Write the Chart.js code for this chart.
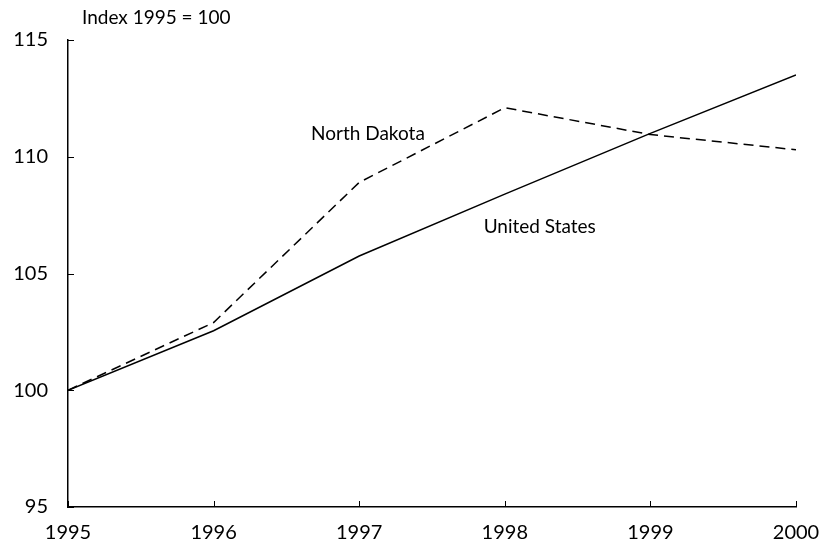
<!DOCTYPE html>
<html lang="en">
<head>
  <meta charset="UTF-8">
  <title>North Dakota vs United States index</title>
  <script src="https://cdn.jsdelivr.net/npm/chart.js"></script>
  <style>
    html, body { margin: 0; padding: 0; background: #fff; }
    #wrap { width: 823px; height: 550px; }
  </style>
</head>
<body>
  <div id="wrap"><canvas id="indexChart"></canvas></div>

  <script>
    // values (index, 1995 = 100)
    const years = [1995, 1996, 1997, 1998, 1999, 2000];
    const northDakota = [100, 102.9, 108.9, 112.1, 110.95, 110.3];
    const unitedStates = [100, 102.55, 105.75, 108.4, 111.0, 113.5];
    const yTicks = [95, 100, 105, 110, 115];

    const FONT = "Lato, 'DejaVu Sans', sans-serif";

    // series names written beside the lines, plus the unit note
    const labelPlugin = {
      id: 'labels',
      afterDraw(chart) {
        const ctx = chart.ctx;
        const x = chart.scales.x, y = chart.scales.y;
        ctx.save();
        ctx.fillStyle = '#000';
        ctx.font = "19px " + FONT;
        ctx.textAlign = 'center';
        ctx.textBaseline = 'middle';
        ctx.fillText('North Dakota', x.getPixelForValue(1997.06), y.getPixelForValue(111.0));
        ctx.fillText('United States', x.getPixelForValue(1998.24), y.getPixelForValue(107.0));
        ctx.textAlign = 'left';
        ctx.fillText('Index 1995 = 100', 82, 18);

        // short inward tick marks
        ctx.strokeStyle = '#000';
        ctx.lineWidth = 1;
        ctx.beginPath();
        y.ticks.forEach(t => {
          const py = Math.round(y.getPixelForValue(t.value)) + 0.5;
          ctx.moveTo(x.left, py); ctx.lineTo(x.left + 6, py);
        });
        x.ticks.forEach(t => {
          const px = Math.round(x.getPixelForValue(t.value)) + 0.5;
          ctx.moveTo(px, y.bottom); ctx.lineTo(px, y.bottom - 6);
        });
        ctx.stroke();
        ctx.restore();
      }
    };

    new Chart(document.getElementById('indexChart'), {
      type: 'line',
      data: {
        datasets: [
          {
            label: 'North Dakota',
            data: years.map((yr, i) => ({ x: yr, y: northDakota[i] })),
            borderColor: '#000',
            borderWidth: 1.5,
            borderDash: [10, 6],
            pointRadius: 0,
            tension: 0
          },
          {
            label: 'United States',
            data: years.map((yr, i) => ({ x: yr, y: unitedStates[i] })),
            borderColor: '#000',
            borderWidth: 1.5,
            pointRadius: 0,
            tension: 0
          }
        ]
      },
      options: {
        responsive: true,
        maintainAspectRatio: false,
        animation: false,
        layout: { padding: { top: 40, right: 27, left: 0, bottom: 0 } },
        plugins: { legend: { display: false }, tooltip: { enabled: false } },
        scales: {
          x: {
            type: 'linear',
            min: 1995,
            max: 2000,
            afterBuildTicks: s => { s.ticks = years.map(v => ({ value: v })); },
            afterFit: s => { s.height = 43; s.paddingLeft = 0; s.paddingRight = 0; },
            grid: { display: false, drawTicks: false },
            border: { color: '#000', width: 1.5 },
            ticks: {
              color: '#000',
              font: { family: FONT, size: 20 },
              padding: 14,
              maxRotation: 0,
              callback: v => String(v)
            }
          },
          y: {
            min: 95,
            max: 115,
            afterBuildTicks: s => { s.ticks = yTicks.map(v => ({ value: v })); },
            afterFit: s => { s.width = 68; s.paddingTop = 0; s.paddingBottom = 0; },
            grid: { display: false, drawTicks: false },
            border: { color: '#000', width: 1.5 },
            ticks: {
              color: '#000',
              font: { family: FONT, size: 20 },
              padding: 20,
              callback: v => String(v)
            }
          }
        }
      },
      plugins: [labelPlugin]
    });
  </script>
</body>
</html>
